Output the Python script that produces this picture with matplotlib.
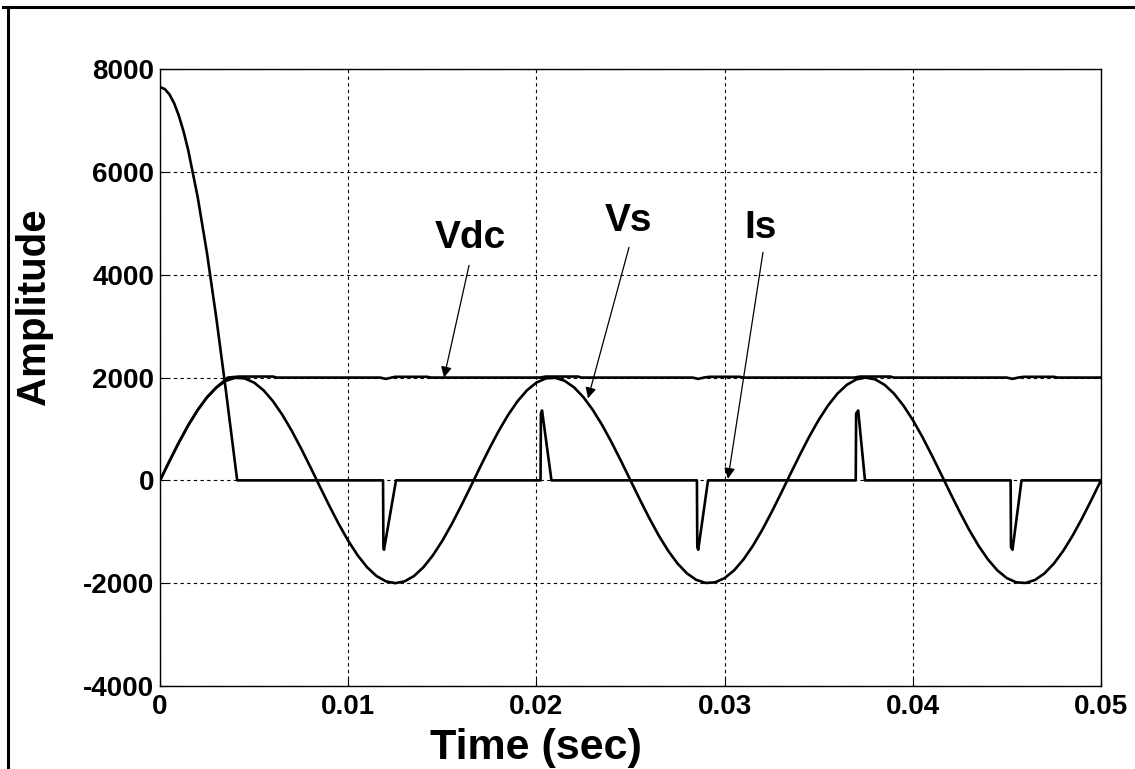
import numpy as np
import matplotlib
matplotlib.use("Agg")
import matplotlib.pyplot as plt
from matplotlib.lines import Line2D

plt.rcParams['font.family'] = ['Liberation Sans', 'DejaVu Sans']
plt.rcParams['font.weight'] = 'bold'
plt.rcParams['axes.unicode_minus'] = False

# supply voltage Vs, sampled every 0.5 ms
t_vs = np.linspace(0, 0.05, 101)
vs_half = [0, 375, 736, 1072, 1369, 1618, 1810, 1937, 1996, 1984, 1902,
           1753, 1541, 1275, 964, 618, 251, -126, -497, -852, -1176,
           -1458, -1689, -1860, -1965, -2000, -1965, -1860, -1689, -1458, -1176,
           -852, -497, -126, 251, 618, 964, 1275, 1541, 1753, 1902,
           1984, 1996, 1937, 1810, 1618, 1369, 1072, 736, 375, 0]
vs = vs_half + [-v for v in vs_half[1:]]

# dc link voltage Vdc
t_vdc = [0, 0.0005, 0.001, 0.0015, 0.002, 0.0025, 0.003, 0.0036, 0.0042, 0.0060,
         0.0062, 0.0117, 0.0120, 0.0123, 0.0125, 0.0142, 0.0144, 0.0202, 0.0205, 0.0222,
         0.0224, 0.0283, 0.0286, 0.0289, 0.0292, 0.0308, 0.0310, 0.0369, 0.0372, 0.0388,
         0.0390, 0.0450, 0.0453, 0.0456, 0.0459, 0.0475, 0.0477, 0.05]
vdc = [0, 375, 736, 1072, 1369, 1618, 1810, 2000, 2020, 2020,
       2000, 2000, 1975, 2000, 2015, 2015, 2000, 2000, 2020, 2020,
       2000, 2000, 1975, 2000, 2015, 2015, 2000, 2000, 2020, 2020,
       2000, 2000, 1975, 2000, 2015, 2015, 2000, 2000]

# source current Is
t_is = [0, 0.00025, 0.0005, 0.00075, 0.001, 0.00125, 0.0015, 0.002, 0.0025,
        0.003, 0.0035, 0.0041,
        0.01185, 0.01187, 0.0119, 0.01254,
        0.02022, 0.02024, 0.0203, 0.0208,
        0.02853, 0.02855, 0.0286, 0.02912,
        0.03697, 0.03699, 0.0371, 0.03746,
        0.0452, 0.04522, 0.0453, 0.04578, 0.05]
i_s = [7650, 7615, 7510, 7337, 7095, 6789, 6421, 5513, 4410,
       3135, 1747, 0,
       0, -1300, -1350, 0,
       0, 1300, 1360, 0,
       0, -1300, -1350, 0,
       0, 1300, 1360, 0,
       0, -1300, -1350, 0, 0]

xticks = [0, 0.01, 0.02, 0.03, 0.04, 0.05]
xticklabels = ['0', '0.01', '0.02', '0.03', '0.04', '0.05']
yticks = [-4000, -2000, 0, 2000, 4000, 6000, 8000]

labels = ['Vdc', 'Vs', 'Is']
label_xy = [(0.01647, 4708), (0.02487, 5039), (0.03193, 4903)]
arrow_tail = [(0.01642, 4183), (0.02492, 4533), (0.03204, 4436)]
arrow_head = [(0.01509, 2000), (0.02274, 1595), (0.03018, 30)]

fig = plt.figure(figsize=(11.35, 7.69), dpi=100)
ax = fig.add_axes([0.141, 0.108, 0.829, 0.802])

lw = 1.9
ax.plot(t_vs, vs, color='k', lw=lw)
ax.plot(t_vdc, vdc, color='k', lw=lw)
ax.plot(t_is, i_s, color='k', lw=lw)

ax.set_xlim(0, 0.05)
ax.set_ylim(-4000, 8000)
ax.set_xticks(xticks)
ax.set_xticklabels(xticklabels)
ax.set_yticks(yticks)
ax.grid(True, color='k', linestyle=(0, (3, 3)), linewidth=0.8)
ax.tick_params(direction='in', length=5, width=0.8, labelsize=20)
ax.tick_params(axis='x', pad=6)
ax.tick_params(axis='y', pad=4)
for sp in ax.spines.values():
    sp.set_linewidth(1.0)

ax.set_xlabel('Time (sec)', fontsize=31, fontweight='bold')
ax.xaxis.set_label_coords((536 - 160) / 941, -0.1)
ax.xaxis.label.set_verticalalignment('center')
ax.set_ylabel('Amplitude', fontsize=29, fontweight='bold')
ax.yaxis.set_label_coords(-0.134, (686 - 307) / 617)
ax.yaxis.label.set_verticalalignment('center')

for lab, (tx, ty), tail, head in zip(labels, label_xy, arrow_tail, arrow_head):
    ax.text(tx, ty, lab, fontsize=28, fontweight='bold', ha='center', va='center')
    ax.annotate('', xy=head, xytext=tail,
                arrowprops=dict(arrowstyle='-|>', color='k', lw=0.9,
                                mutation_scale=16, shrinkA=0, shrinkB=0))

# outer frame (left and top edges visible)
fig.add_artist(Line2D([0.007, 0.007], [0, 0.991], color='k', lw=2.2))
fig.add_artist(Line2D([0.003, 1.0], [0.991, 0.991], color='k', lw=2.2))

fig.savefig('out.png', dpi=100)
